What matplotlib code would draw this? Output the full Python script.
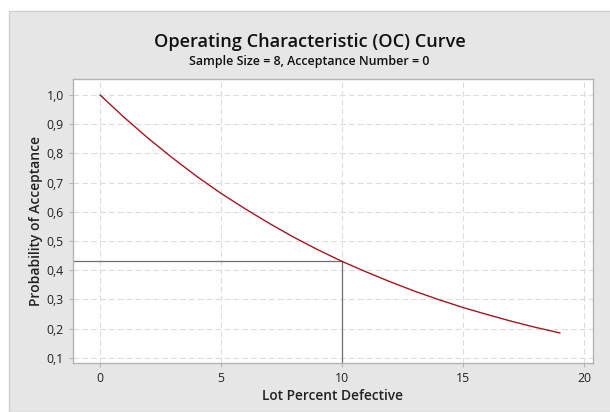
import matplotlib
matplotlib.use("Agg")
import matplotlib.pyplot as plt
from matplotlib.patches import Rectangle
from matplotlib.ticker import FuncFormatter

plt.rcParams['font.family'] = ['Open Sans', 'DejaVu Sans']

# lot percent defective vs probability of acceptance
pct_defective = [0, 1, 2, 3, 4, 5, 6, 7, 8, 9, 10,
                 11, 12, 13, 14, 15, 16, 17, 18, 19]
prob_accept = [1.000, 0.923, 0.851, 0.784, 0.721, 0.663, 0.610, 0.560, 0.513, 0.470, 0.430,
               0.394, 0.360, 0.328, 0.299, 0.272, 0.248, 0.225, 0.204, 0.185]

# reference point marked on the chart
ref_x = 10
ref_y = 0.430

x_ticks = [0, 5, 10, 15, 20]
y_ticks = [0.1, 0.2, 0.3, 0.4, 0.5, 0.6, 0.7, 0.8, 0.9, 1.0]

fig = plt.figure(figsize=(6.1, 4.12), dpi=100, facecolor='white')
# grey panel behind everything
fig.patches.append(Rectangle((9 / 610, 0), 1, 1 - 11 / 412, transform=fig.transFigure,
                             facecolor='#e6e6e6', edgecolor='#cfcfcf', linewidth=1, zorder=-5))

ax = fig.add_axes([73 / 610, 1 - 363 / 412, (593 - 73) / 610, (363 - 79) / 412])
ax.set_zorder(2)
ax.set_facecolor('white')

ax.plot(pct_defective, prob_accept, color='#a01822', linewidth=1.0, zorder=3)
ax.plot([-5, ref_x], [ref_y, ref_y], color='#6e6e6e', linewidth=0.9, zorder=2)
ax.plot([ref_x, ref_x], [0, ref_y], color='#6e6e6e', linewidth=0.9, zorder=2)

ax.set_xlim(-1.12, 20.37)
ax.set_ylim(0.082, 1.055)
ax.set_xticks(x_ticks)
ax.set_yticks(y_ticks)
ax.yaxis.set_major_formatter(FuncFormatter(lambda v, p: ('%.1f' % v).replace('.', ',')))
ax.grid(True, color='#dcdcdc', linestyle=(0, (5, 3)), linewidth=0.8)
ax.set_axisbelow(True)

for side in ['left', 'bottom', 'right', 'top']:
    ax.spines[side].set_color('#b4b4b4')
    ax.spines[side].set_linewidth(1.0)
ax.tick_params(axis='both', colors='#b4b4b4', labelcolor='#222222', labelsize=8.8, length=3, width=0.8)

ax.set_xlabel('Lot Percent Defective', fontsize=9.9, fontweight='semibold', color='#222222', labelpad=3)
ax.set_ylabel('Probability of Acceptance', fontsize=10, fontweight='semibold', color='#222222', labelpad=3)

fig.text(0.5 * (9 / 610) + 0.5, 1 - 42 / 412, 'Operating Characteristic (OC) Curve',
         ha='center', va='center', fontsize=13.1, fontweight='semibold', color='#111111')
fig.text(0.5 * (9 / 610) + 0.5, 1 - 62 / 412, 'Sample Size = 8, Acceptance Number = 0',
         ha='center', va='center', fontsize=8.9, fontweight='semibold', color='#111111')

fig.savefig('out.png', dpi=100, facecolor=fig.get_facecolor())
